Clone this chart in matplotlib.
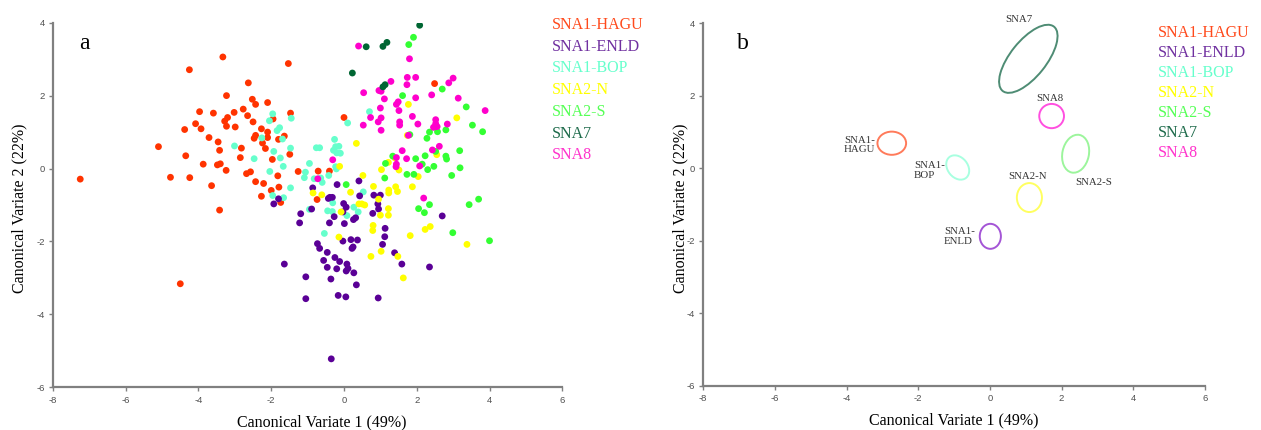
import matplotlib
matplotlib.use("Agg")
import matplotlib.pyplot as plt
from matplotlib.patches import Ellipse

plt.rcParams["axes.unicode_minus"] = False

# ---------------- data (panel a: canonical scores) ----------------
groups = ["SNA1-HAGU", "SNA1-ENLD", "SNA1-BOP", "SNA2-N", "SNA2-S", "SNA7", "SNA8"]
point_colors = {"SNA1-HAGU": "#FF3300", "SNA1-ENLD": "#5A0096", "SNA1-BOP": "#66FFCC",
                "SNA2-N": "#FFFF00", "SNA2-S": "#33FF33", "SNA7": "#006633", "SNA8": "#FF00CC"}
legend_colors = {"SNA1-HAGU": "#FF4A1C", "SNA1-ENLD": "#7030A0", "SNA1-BOP": "#66FFCC",
                 "SNA2-N": "#FFFF00", "SNA2-S": "#55FF55", "SNA7": "#1E6B4B", "SNA8": "#FF33CC"}
ellipse_colors = {"SNA1-HAGU": "#FF7A5A", "SNA1-ENLD": "#A455D6", "SNA1-BOP": "#A8FFE0",
                  "SNA2-N": "#FFFF60", "SNA2-S": "#9CF59C", "SNA7": "#4E8C74", "SNA8": "#FF4FE0"}

hagu_x = [-7.25, -5.10, -4.77, -4.50, -4.38, -4.35, -4.25, -4.24, -4.08, -3.97, -3.93, -3.87,
          -3.71, -3.64, -3.59, -3.48, -3.46, -3.42, -3.42, -3.40, -3.33, -3.28, -3.24, -3.23,
          -3.23, -3.20, -3.02, -2.99, -2.85, -2.82, -2.77, -2.68, -2.65, -2.63, -2.57, -2.52,
          -2.50, -2.47, -2.43, -2.43, -2.43, -2.27, -2.27, -2.24, -2.21, -2.16, -2.10, -2.10,
          -2.10, -2.00, -1.97, -1.95, -1.82, -1.80, -1.79, -1.74, -1.64, -1.53, -1.49, -1.47,
          -1.26, -0.74, -0.71, -0.40, 0.00, 2.49]
hagu_y = [-0.29, 0.60, -0.24, -3.16, 1.07, 0.35, 2.71, -0.25, 1.23, 1.56, 1.09, 0.12,
          0.85, -0.47, 1.52, 0.10, 0.73, 0.50, -1.14, 0.13, 3.06, 1.30, -0.05, 2.00,
          1.16, 1.40, 1.54, 1.14, 0.30, 0.56, 1.63, -0.14, 1.45, 2.35, -0.09, 1.90,
          1.28, 0.83, 1.76, 0.91, -0.36, 1.09, -0.76, 0.70, -0.41, 0.55, 1.81, 1.00,
          0.85, -0.60, 0.25, 1.36, -0.20, 0.80, -0.51, -0.93, 0.89, 2.88, 0.39, 1.52,
          -0.08, -0.85, -0.07, -0.07, 1.40, 2.33]

bop_x = [-3.01, -2.47, -2.26, -2.05, -2.04, -1.96, -1.96, -1.93, -1.84, -1.77, -1.75, -1.69,
         -1.67, -1.66, -1.47, -1.47, -1.45, -1.09, -1.06, -0.95, -0.95, -0.82, -0.76, -0.67,
         -0.64, -0.60, -0.54, -0.45, -0.42, -0.32, -0.31, -0.29, -0.26, -0.23, -0.23, -0.21,
         -0.20, -0.14, -0.10, 0.08, 0.10, 0.27, 0.39, 0.53, 0.70]
bop_y = [0.62, 0.27, 0.84, 1.31, -0.08, 1.50, -0.74, 0.47, 1.04, 1.12, 0.29, 0.81,
         0.06, -0.80, 0.56, -0.53, 1.38, -0.25, -0.10, 0.14, -1.12, -0.28, 0.57, 0.57,
         -0.26, -0.38, -1.78, -1.16, -0.19, -1.18, -0.94, 0.50, 0.80, 0.60, 0.05, -0.01,
         0.43, 0.61, 0.42, -1.29, 1.25, -1.06, -1.19, -0.64, 1.56]

enld_x = [-1.93, -1.80, -1.64, -1.22, -1.19, -1.05, -1.05, -0.89, -0.86, -0.73, -0.67, -0.56,
          -0.46, -0.46, -0.43, -0.39, -0.32, -0.40, -0.36, -0.35, -0.27, -0.25, -0.19, -0.20,
          -0.16, -0.12, -0.03, -0.01, 0.06, -0.03, 0.01, 0.05, 0.06, 0.11, 0.08, 0.19,
          0.37, 0.22, 0.25, 0.27, 0.26, 0.32, 0.34, 0.41, 0.43, 0.79, 0.82, 0.93,
          0.94, 0.95, 1.00, 1.06, 1.13, 1.12, 1.39, 1.59, 2.35, 2.70]
enld_y = [-0.97, -0.83, -2.62, -1.49, -1.24, -2.97, -3.57, -1.11, -0.53, -2.06, -2.19, -2.52,
          -2.30, -2.71, -0.82, -0.79, -0.79, -1.49, -3.03, -5.22, -1.32, -2.44, -0.44, -2.75,
          -3.48, -2.55, -1.99, -0.96, -1.06, -1.19, -1.51, -3.52, -2.81, -2.74, -2.62, -1.95,
          -1.96, -2.19, -2.15, -2.86, -1.40, -1.35, -3.19, -0.34, -0.75, -1.23, -0.73, -0.97,
          -3.55, -1.11, -0.73, -2.08, -1.64, -1.87, -2.31, -2.62, -2.70, -1.30]

n_x = [-0.85, -0.61, -0.14, -0.12, -0.08, 0.18, 0.34, 0.41, 0.49, 0.57, 0.52, 0.74,
       0.80, 0.79, 0.81, 0.95, 1.00, 1.03, 1.02, 1.22, 1.22, 1.22, 1.23, 1.23,
       1.40, 1.42, 1.47, 1.48, 1.51, 1.63, 1.74, 1.77, 1.82, 1.88, 2.04, 2.23,
       2.37, 2.55, 3.10, 3.38]
n_y = [-0.67, -0.72, -1.88, 0.06, -1.19, -0.65, 0.69, -0.97, -0.97, -1.00, -0.19, -2.41,
       -1.56, -1.70, -0.49, -0.84, -1.28, -0.03, -2.27, -1.10, -1.28, 0.17, -0.59, -0.67,
       0.29, -0.50, -0.63, -2.41, -0.04, -3.00, 0.91, 1.76, -1.84, -0.50, -0.22, -1.67,
       -1.59, 0.38, 1.39, -2.08]

s_x = [0.06, 1.12, 1.14, 1.34, 1.61, 1.73, 1.78, 1.81, 1.91, 1.92, 1.97, 2.05,
       2.15, 2.21, 2.23, 2.28, 2.30, 2.35, 2.35, 2.47, 2.52, 2.57, 2.70, 2.80,
       2.80, 2.82, 2.96, 2.99, 3.18, 3.19, 3.36, 3.44, 3.53, 3.70, 3.81, 4.00]
s_y = [-0.44, -0.26, 0.14, 0.34, 2.00, -0.16, 3.40, 0.93, 3.60, -0.16, 0.27, -1.10,
       0.12, -1.21, 0.35, 0.83, -0.03, 1.00, -0.99, 0.06, 0.47, 1.01, 2.18, 1.06,
       0.34, 0.26, -0.19, -1.76, 0.49, 0.02, 1.69, -0.99, 1.19, -0.84, 1.01, -1.98]

sna7_x = [2.08, 0.61, 1.07, 1.18, 0.23, 1.07, 1.13]
sna7_y = [3.93, 3.34, 3.35, 3.46, 2.62, 2.24, 2.30]

sna8_x = [-0.72, -0.31, 0.40, 0.53, 0.54, 0.73, 0.94, 0.96, 1.02, 1.02, 1.02, 1.00,
          1.11, 1.29, 1.44, 1.49, 1.51, 1.53, 1.53, 1.44, 1.44, 1.43, 1.60, 1.72,
          1.74, 1.73, 1.77, 1.80, 1.88, 1.97, 1.97, 2.03, 2.08, 2.19, 2.41, 2.43,
          2.52, 2.52, 2.56, 2.46, 2.62, 2.84, 2.88, 3.00, 3.14, 3.88]
sna8_y = [-0.28, 0.24, 3.36, 1.19, 2.08, 1.40, 1.28, 2.14, 2.12, 1.39, 1.05, 1.66,
          1.91, 2.39, 1.76, 1.83, 1.59, 1.28, 1.19, 0.30, 0.12, 0.05, 0.49, 0.27,
          2.50, 2.30, 0.91, 3.01, 1.43, 2.50, 1.94, 1.22, 0.07, -0.81, 2.02, 0.51,
          1.34, 1.23, 1.15, 1.13, 0.61, 1.22, 2.35, 2.48, 1.93, 1.59]

scores = {"SNA1-HAGU": (hagu_x, hagu_y), "SNA1-BOP": (bop_x, bop_y),
          "SNA1-ENLD": (enld_x, enld_y), "SNA2-N": (n_x, n_y), "SNA2-S": (s_x, s_y),
          "SNA8": (sna8_x, sna8_y), "SNA7": (sna7_x, sna7_y)}
draw_order = ["SNA1-HAGU", "SNA1-BOP", "SNA1-ENLD", "SNA2-N", "SNA2-S", "SNA8", "SNA7"]

# ---------------- data (panel b: confidence ellipses of group means) ----------------
ell_groups = ["SNA1-HAGU", "SNA1-BOP", "SNA1-ENLD", "SNA2-N", "SNA2-S", "SNA8", "SNA7"]
ell_cx = [-2.74, -0.90, 0.01, 1.10, 2.39, 1.72, 1.07]
ell_cy = [0.69, 0.02, -1.88, -0.81, 0.40, 1.44, 3.02]
ell_w = [0.80, 0.74, 0.59, 0.70, 0.74, 0.69, 2.28]
ell_h = [0.64, 0.56, 0.69, 0.80, 1.06, 0.67, 1.00]
ell_angle = [0, -50, 0, 0, -12, 0, 51]
ell_labels = ["SNA1-\nHAGU", "SNA1-\nBOP", "SNA1-\nENLD", "SNA2-N", "SNA2-S", "SNA8", "SNA7"]
lab_x = [-4.07, -2.12, -1.28, 1.06, 2.88, 1.67, 0.82]
lab_y = [0.64, -0.07, -1.88, -0.23, -0.39, 1.93, 4.10]
lab_ha = ["left", "left", "left", "center", "center", "center", "center"]

xticks = [-8, -6, -4, -2, 0, 2, 4, 6]
yticks = [-6, -4, -2, 0, 2, 4]
xlabel = "Canonical Variate 1 (49%)"
ylabel = "Canonical Variate 2 (22%)"

# ---------------- figure ----------------
serif = ["Liberation Serif", "DejaVu Serif"]
sans = ["Liberation Sans", "DejaVu Sans"]

fig = plt.figure(figsize=(12.61, 4.30), dpi=100)
axa = fig.add_axes([0.0420, 0.0993, 0.4039, 0.8479])
axb = fig.add_axes([0.5577, 0.1033, 0.3979, 0.8425])


def style(ax):
    ax.set_xlim(-8, 6)
    ax.set_ylim(-6, 4)
    for sp in ["top", "right"]:
        ax.spines[sp].set_visible(False)
    for sp in ["left", "bottom"]:
        ax.spines[sp].set_color("#808080")
        ax.spines[sp].set_linewidth(1.6)
    ax.set_xticks(xticks)
    ax.set_yticks(yticks)
    ax.tick_params(length=3, width=1, color="#808080", labelsize=6.8,
                   labelcolor="#505050", pad=3)
    for lab in ax.get_xticklabels() + ax.get_yticklabels():
        lab.set_family(sans)
    ax.set_facecolor("white")


style(axa)
style(axb)

# panel a points
for g in draw_order:
    xs, ys = scores[g]
    axa.scatter(xs, ys, s=24, color=point_colors[g], edgecolors="none", zorder=3)

axa.set_xlabel(xlabel, family=serif, fontsize=11.5)
axa.xaxis.set_label_coords(0.527, -0.075)
axa.set_ylabel(ylabel, family=serif, fontsize=11.5)
axa.yaxis.set_label_coords(-0.051, 0.49)
axa.text(0.051, 0.944, "a", transform=axa.transAxes, family=serif, fontsize=17,
         ha="left", va="center")

# panel b ellipses
for g, cx, cy, w, h, a in zip(ell_groups, ell_cx, ell_cy, ell_w, ell_h, ell_angle):
    axb.add_patch(Ellipse((cx, cy), w, h, angle=a, fill=False,
                          edgecolor=ellipse_colors[g], linewidth=1.4, zorder=3))
for t, x, y, ha in zip(ell_labels, lab_x, lab_y, lab_ha):
    axb.text(x, y, t, ha=ha, va="center", family=serif, fontsize=7.8,
             color="#333333", linespacing=1.1, clip_on=False)

axb.set_xlabel(xlabel, family=serif, fontsize=11.5)
axb.xaxis.set_label_coords(0.5, -0.075)
axb.set_ylabel(ylabel, family=serif, fontsize=11.5)
axb.yaxis.set_label_coords(-0.030, 0.49)
axb.text(0.068, 0.945, "b", transform=axb.transAxes, family=serif, fontsize=17,
         ha="left", va="center")

# legends as coloured text
for i, g in enumerate(groups):
    fig.text(0.4375, 0.9419 - i * 0.0505, g, color=legend_colors[g], family=serif,
             fontsize=11.5, ha="left", va="center")
    fig.text(0.9186, 0.9226 - i * 0.0465, g, color=legend_colors[g], family=serif,
             fontsize=11.5, ha="left", va="center")

fig.savefig("out.png", dpi=100, facecolor="white")
